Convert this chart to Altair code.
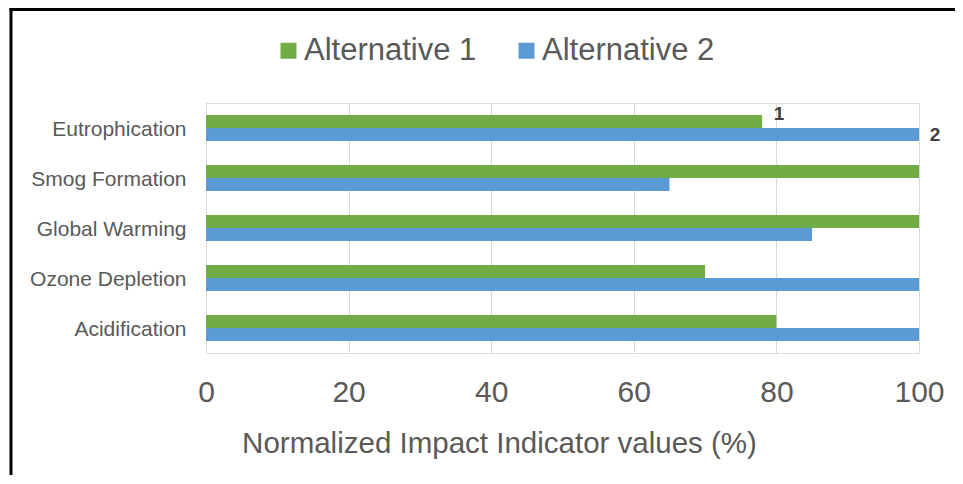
import altair as alt
import pandas as pd

categories = ["Eutrophication", "Smog Formation", "Global Warming", "Ozone Depletion", "Acidification"]
series = ["Alternative 1", "Alternative 2"]
alt1 = [78, 100, 100, 70, 80]
alt2 = [100, 65, 85, 100, 100]
colors = ["#70AD47", "#5B9BD5"]
x_ticks = [0, 20, 40, 60, 80, 100]

label_cats = ["Eutrophication", "Eutrophication"]
label_series = ["Alternative 1", "Alternative 2"]
label_values = [78, 100]
label_text = ["1", "2"]

rows = []
for c, a, b in zip(categories, alt1, alt2):
    rows.append({"cat": c, "series": series[0], "value": a})
    rows.append({"cat": c, "series": series[1], "value": b})
df = pd.DataFrame(rows)
lab = pd.DataFrame({"cat": label_cats, "series": label_series, "value": label_values, "text": label_text})

FONT = "Liberation Sans"
GREY = "#595959"

y_enc = alt.Y("cat:N", sort=categories,
              scale=alt.Scale(paddingInner=0.48, paddingOuter=0.24),
              axis=alt.Axis(title=None, ticks=False, domain=False, labelPadding=20, labelOffset=2,
                            labelFontSize=21, labelColor=GREY, labelFont=FONT, labelLimit=300))
yoff = alt.YOffset("series:N", sort=series, scale=alt.Scale(paddingInner=0, paddingOuter=0))

bars = alt.Chart(df).mark_bar(opacity=1).encode(
    x=alt.X("value:Q", scale=alt.Scale(domain=[0, 100], nice=False),
            axis=alt.Axis(values=x_ticks, title="Normalized Impact Indicator values (%)",
                          ticks=False, tickSize=0, domain=False, grid=True, gridColor="#D9D9D9",
                          labelFontSize=30, labelColor=GREY, labelFont=FONT,
                          labelBaseline="alphabetic", labelPadding=48, labelFlush=False,
                          titleFontSize=29.5, titleColor=GREY, titleFont=FONT, titleFontWeight="normal",
                          titleBaseline="alphabetic", titleY=99, titleX=293, titleAlign="center")),
    y=y_enc,
    yOffset=yoff,
    color=alt.Color("series:N", sort=series, scale=alt.Scale(domain=series, range=colors),
                    legend=alt.Legend(title=None, orient="none", direction="horizontal",
                                      legendX=67, legendY=-68, symbolType="square", symbolSize=256,
                                      symbolStrokeWidth=0, symbolOpacity=1, labelFontSize=31,
                                      labelColor=GREY, labelFont=FONT, labelOffset=0,
                                      columnPadding=34, padding=0, labelLimit=400)),
)

t1 = alt.Chart(lab).transform_filter(alt.datum.text == "1").mark_text(
    dx=17, dy=-8, fontSize=19, fontWeight="bold", color="#404040", font=FONT
).encode(x="value:Q", y=alt.Y("cat:N", sort=categories), yOffset=yoff, text="text:N")

t2 = alt.Chart(lab).transform_filter(alt.datum.text == "2").mark_text(
    dx=16, dy=0, fontSize=19, fontWeight="bold", color="#404040", font=FONT
).encode(x="value:Q", y=alt.Y("cat:N", sort=categories), yOffset=yoff, text="text:N")

frame = pd.DataFrame({"a": [0]})
top_line = alt.Chart(frame).mark_rule(color="black", strokeWidth=3).encode(
    x=alt.value(-196.5), x2=alt.value(749), y=alt.value(-93.5))
left_line = alt.Chart(frame).mark_rule(color="black", strokeWidth=3).encode(
    x=alt.value(-195), y=alt.value(-95), y2=alt.value(373))

chart = alt.layer(bars, t1, t2, top_line, left_line).properties(
    width=713, height=250,
    autosize=alt.AutoSizeParams(type="none"),
    padding={"left": 198, "top": 95, "right": 36, "bottom": 122},
).configure_view(stroke="#BFBFBF", strokeWidth=1).configure(background="white")

chart.save("out.html", embed_options={"renderer": "svg", "actions": False})
